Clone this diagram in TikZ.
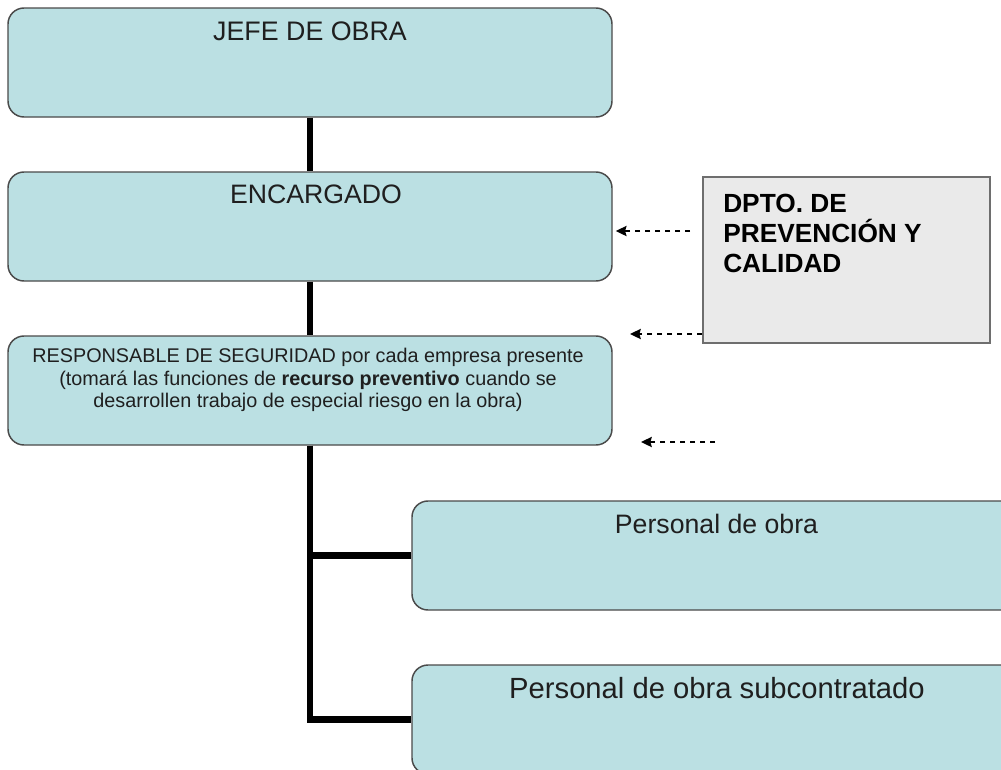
\documentclass[tikz,border=0pt]{standalone}
\usepackage{fontspec}
\setmainfont{Liberation Sans}
\usetikzlibrary{arrows.meta}
\definecolor{boxfill}{HTML}{BBE0E3}
\definecolor{boxline}{HTML}{4A4A4A}
\definecolor{dptofill}{HTML}{EAEAEA}
\definecolor{dptoline}{HTML}{6E6E6E}
\begin{document}
\begin{tikzpicture}[x=0.75pt,y=-0.75pt,
  orgbox/.style={rectangle, draw=boxline, line width=1.1pt, fill=boxfill,
    rounded corners=12pt, inner sep=0pt, minimum height=81.75pt},
  dptobox/.style={rectangle, draw=dptoline, line width=1.4pt, fill=dptofill,
    inner sep=0pt, minimum width=215.25pt, minimum height=124.5pt},
  lbl/.style={anchor=base, inner sep=0pt, text=black!88},
  dlbl/.style={anchor=base west, inner sep=0pt, font=\fontsize{19.7}{22.5}\selectfont\bfseries},
  trunk/.style={line width=4.8pt, black, line join=miter},
  dasharrow/.style={line width=1.8pt, dash pattern=on 4pt off 3.5pt, -{Stealth[length=8pt,width=7.5pt,inset=1pt]}}]
\useasboundingbox (0,0) rectangle (1001,769);
\fill[white] (0,0) rectangle (1001,769);

% boxes
\node[orgbox, minimum width=453pt] (jefe) at (310,62.5) {};
\node[orgbox, minimum width=453pt] (enc) at (310,226.5) {};
\node[orgbox, minimum width=453pt] (resp) at (310,390.5) {};
\node[orgbox, minimum width=456pt] (pdo) at (716,555.5) {};
\node[orgbox, minimum width=456pt] (pdos) at (716,719.5) {};
\node[dptobox] (dpto) at (846.5,260) {};

% connectors
\draw[trunk] (jefe.south) -- (enc.north);
\draw[trunk] (enc.south) -- (resp.north);
\draw[trunk] (resp.south) |- (pdo.west);
\draw[trunk] (resp.south) |- (pdos.west);

% texts
\node[lbl, font=\fontsize{20.1}{24}\selectfont] (tjefe) at (310,40.5) {JEFE DE OBRA};
\node[lbl, font=\fontsize{20}{24}\selectfont] (tenc) at (316,203.5) {ENCARGADO};
\node[lbl, font=\fontsize{14.85}{17.25}\selectfont] (tresp1) at (308,362) {RESPONSABLE DE SEGURIDAD por cada empresa presente};
\node[lbl, font=\fontsize{14.85}{17.25}\selectfont] (tresp2) at (308,385) {(tomará las funciones de \textbf{recurso preventivo} cuando se};
\node[lbl, font=\fontsize{14.85}{17.25}\selectfont] (tresp3) at (308,407.5) {desarrollen trabajo de especial riesgo en la obra)};
\node[lbl, font=\fontsize{20}{24}\selectfont] (tpdo) at (716.5,533.5) {Personal de obra};
\node[lbl, font=\fontsize{21.9}{26}\selectfont] (tpdos) at (717,698.5) {Personal de obra subcontratado};
\node[dlbl] (td1) at (723,212) {DPTO. DE};
\node[dlbl] (td2) at (723,242) {PREVENCIÓN Y};
\node[dlbl] (td3) at (723,272) {CALIDAD};

% dashed arrows
\coordinate (a1s) at (690,231);
\coordinate (a2e) at (630,334);
\coordinate (a3s) at (715,442);
\coordinate (a3e) at (641,442);
\draw[dasharrow, shorten >=2.25pt] (a1s) -- (enc.east |- a1s);
\draw[dasharrow] (dpto.west |- a2e) -- (a2e);
\draw[dasharrow] (a3s) -- (a3e);
\end{tikzpicture}
\end{document}
